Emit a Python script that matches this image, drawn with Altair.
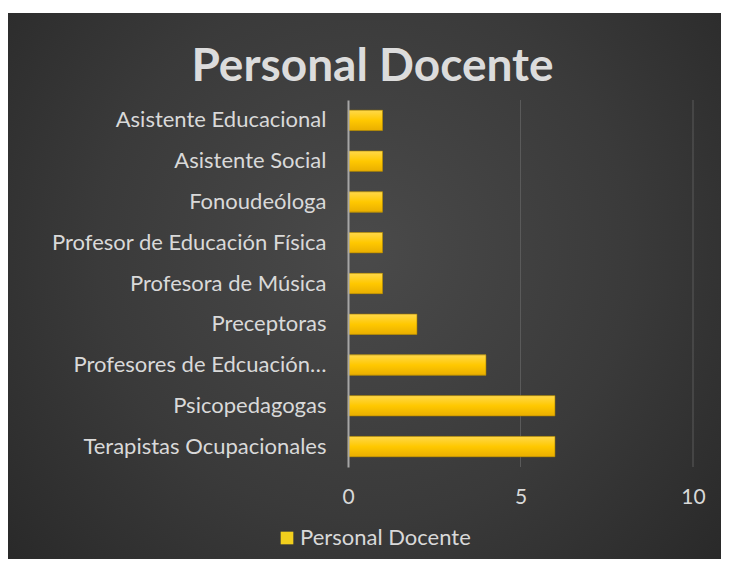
import altair as alt
import pandas as pd

categories = [
    "Asistente Educacional",
    "Asistente Social",
    "Fonoudeóloga",
    "Profesor de Educación Física",
    "Profesora de Música",
    "Preceptoras",
    "Profesores de Edcuación…",
    "Psicopedagogas",
    "Terapistas Ocupacionales",
]
values = [1, 1, 1, 1, 1, 2, 4, 6, 6]
series = ["Personal Docente"] * len(categories)
x_ticks = [0, 5, 10]
grid_ticks = [5, 10]

df = pd.DataFrame({"cat": categories, "val": values, "serie": series})
df_grid = pd.DataFrame({"t": grid_ticks})

FONT = "Lato"
TXT = "#d9d9d9"

x_scale = alt.Scale(domain=[0, 10], nice=False)

y_enc = alt.Y(
    "cat:N",
    sort=categories,
    title=None,
    scale=alt.Scale(paddingInner=0.5, paddingOuter=0.25),
    axis=alt.Axis(
        labelFont=FONT, labelFontSize=22, labelColor=TXT, labelPadding=22,
        ticks=False, domain=True, domainColor="#a6a6a6", domainWidth=2,
        grid=False, labelLimit=400, zindex=1,
    ),
)
x_enc = alt.X(
    "val:Q",
    title=None,
    scale=x_scale,
    axis=alt.Axis(
        values=x_ticks, labelFont=FONT, labelFontSize=21, labelColor=TXT,
        labelPadding=19, labelFlush=False, ticks=False, domain=False,
        grid=False, zindex=1,
    ),
)

bg_grad = alt.Gradient(
    gradient="radial", x1=0.5, y1=0.45, r1=0, x2=0.5, y2=0.45, r2=0.75,
    stops=[
        alt.GradientStop(color="#4a4a4a", offset=0),
        alt.GradientStop(color="#3a3a3a", offset=0.5),
        alt.GradientStop(color="#242424", offset=1),
    ],
)
bg_layer = alt.Chart(pd.DataFrame({"bg": [0]})).mark_rect(fill=bg_grad).encode(
    x=alt.value(-341), x2=alt.value(373), y=alt.value(-87), y2=alt.value(459),
)

grid_layer = alt.Chart(df_grid).mark_rule(color="#5a5a5a", strokeWidth=1).encode(
    x=alt.X("t:Q", scale=x_scale),
)

base = alt.Chart(df)

legend_layer = base.mark_bar().encode(
    y=y_enc,
    x=x_enc,
    color=alt.Color(
        "serie:N",
        scale=alt.Scale(range=["#F2CF1D"]),
        legend=alt.Legend(
            title=None, orient="none", legendX=-72, legendY=427,
            symbolType="square", symbolSize=160, symbolStrokeWidth=0,
            labelFont=FONT, labelFontSize=22, labelColor=TXT,
            labelOffset=2, padding=0, labelLimit=400, zindex=2,
        ),
    ),
)

grad = alt.Gradient(
    gradient="linear", x1=0, y1=0, x2=0, y2=1,
    stops=[
        alt.GradientStop(color="#FFD84A", offset=0),
        alt.GradientStop(color="#FFC800", offset=0.5),
        alt.GradientStop(color="#E9AE00", offset=1),
    ],
)
bar_layer = base.mark_bar(fill=grad, stroke="#A07800", strokeWidth=0.6).encode(
    y=y_enc, x=x_enc,
)

chart = (
    alt.layer(bg_layer, grid_layer, legend_layer, bar_layer)
    .properties(
        width=345,
        height=367,
        autosize=alt.AutoSizeParams(type="none"),
        padding={"left": 340, "top": 92, "right": 28, "bottom": 92},
        background="white",
        title=alt.TitleParams(
            "Personal Docente", font=FONT, fontSize=46, fontWeight="bold",
            color="#dcdcdc", anchor="middle", frame="group", dx=-148,
            dy=134, offset=20, baseline="alphabetic", zindex=2,
        ),
    )
    .configure_view(stroke=None)
)

chart.save("out.html", embed_options={"renderer": "svg", "actions": False})
